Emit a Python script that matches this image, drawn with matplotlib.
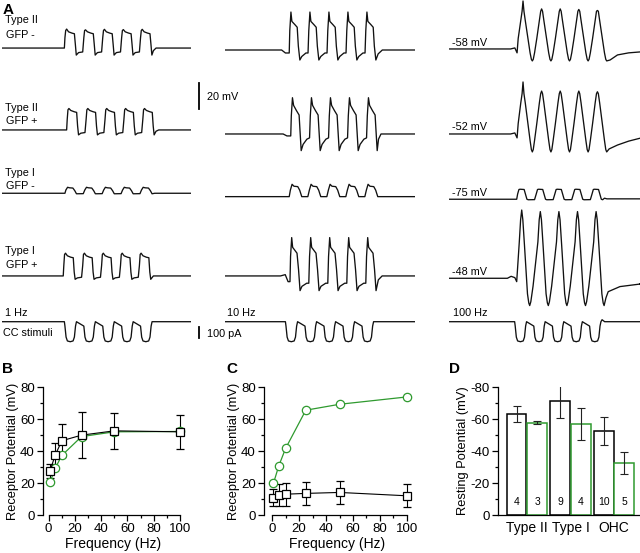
import numpy as np
import matplotlib.pyplot as plt

plt.rcParams['font.family'] = ['Liberation Sans', 'DejaVu Sans']
plt.rcParams['axes.unicode_minus'] = False

W, H = 640, 553
GREEN = '#2f9a2f'

# ------------------------------------------------------------------
# A: example sweeps. cycle vertices = fraction of a stimulus period
# after pulse onset, value = mV (or pA) relative to the resting level
# ------------------------------------------------------------------
# 1 Hz column (time in s)
hz1_sq_f = [0.03, 0.07, 0.12, 0.22, 0.40, 0.53, 0.58, 0.63, 0.75, 0.97]
hz1_r1_v = [8, 13.5, 14.6, 12.5, 11.5, 11, 3, -5.4, -3.5, -3]
hz1_r2_v = [8, 15.5, 16.5, 15, 14, 13.5, 3, -3.8, -2.5, -2]
hz1_r4_v = [8, 16.5, 17.5, 15.5, 14.4, 14, 3, -2.6, -1.5, -1]
hz1_r3_f = [0.05, 0.14, 0.24, 0.42, 0.52, 0.61, 0.97]
hz1_r3_v = [2.5, 4.6, 4.2, 4.0, 2, -0.4, -0.3]
hz1_onset = [3.30, 3.42, 3.33, 3.24]

# 10 Hz column (time in s)
hz10_r1_f = [0.03, 0.09, 0.14, 0.30, 0.42, 0.48, 0.56, 0.66, 0.88, 0.99]
hz10_r1_v = [15, 29.2, 22, 19.5, 17.5, 3, -7.7, -5, -2.3, -2.3]
hz10_r2_f = [0.03, 0.09, 0.15, 0.30, 0.44, 0.49, 0.55, 0.65, 0.85, 0.99]
hz10_r2_v = [14, 27.9, 22, 18, 14.6, 2, -12.8, -8, -4, -3]
hz10_r3_f = [0.06, 0.15, 0.25, 0.45, 0.55, 0.66, 0.98]
hz10_r3_v = [5, 9.5, 8, 7.7, 5, 0, 0]
hz10_r4_f = [0.03, 0.09, 0.14, 0.37, 0.45, 0.53, 0.63, 0.88, 0.99]
hz10_r4_v = [15, 29.5, 22, 17.5, 5, -11.3, -8, -5.6, -5.6]
hz10_onset = [0.338, 0.346, 0.338, 0.342]

# 100 Hz column (time in ms)
hz100_sin_f = [0.06, 0.20, 0.27, 0.32, 0.37, 0.44, 0.70, 0.77, 0.82, 0.87, 0.94]
hz100_r1_v = [8, 22, 29, 31, 29, 22, -3, -8, -9.2, -8, -3]
hz100_r1_pk = [36.9, 30.8, 30.8, 30.4, 29.6]
hz100_r2_v = [8, 24, 31, 33, 31, 24, -5, -12, -13.8, -12, -5]
hz100_r2_pk = [40, 33, 33, 33, 32.5]
hz100_r3_f = [0.05, 0.12, 0.18, 0.40, 0.47, 0.55, 0.62, 0.96]
hz100_r3_v = [4, 7.5, 7.7, 7.5, 4, 0, -0.4, -0.3]
hz100_r4_f = [0.14, 0.21, 0.27, 0.33, 0.42, 0.58, 0.65, 0.70, 0.76, 0.88]
hz100_r4_v = [28, 45, 51.3, 45, 25, -12, -19, -21, -18, -6]
hz100_r4_pk = [52.5, 51.3, 51.3, 51.3, 51.3]
hz100_onset = [36.6, 36.6, 36.4, 36.4]

# current clamp stimulus (pA)
cc_f = [0.03, 0.09, 0.16, 0.31, 0.46, 0.53, 0.59, 0.64]
cc_v = [-40, -140, -175, -182, -175, -140, -40, 0]
cc_onset = [3.30, 0.318, 35.3]

periods = [1.0, 0.1, 10.0]
sweep_len = [10.0, 1.0, 102.7]
freq_labels = ['1 Hz', '10 Hz', '100 Hz']
rest_labels = ['-58 mV', '-52 mV', '-75 mV', '-48 mV']
row_labels = [('Type II', 'GFP -'), ('Type II', 'GFP +'), ('Type I', 'GFP -'), ('Type I', 'GFP +')]
SCALE_MV = 20
SCALE_PA = 100

# ------------------------------------------------------------------
# B, C: receptor potential vs stimulus frequency
# ------------------------------------------------------------------
freq = [1, 5, 10, 25, 50, 100]
b_black = [27.6, 37.4, 46.4, 49.9, 52.6, 52.0]
b_black_err = [4.3, 7.3, 10.4, 14.3, 11.2, 10.8]
b_green = [20.4, 29.2, 37.2, 49.0, 52.0, 52.2]
c_black = [10.8, 12.5, 13.0, 13.5, 14.1, 12.0]
c_black_err = [5.2, 7.0, 7.3, 7.0, 7.1, 7.3]
c_green = [19.8, 30.8, 41.6, 65.5, 69.2, 73.8]

# ------------------------------------------------------------------
# D: resting potential
# ------------------------------------------------------------------
d_groups = ['Type II', 'Type I', 'OHC']
d_black = [-63.4, -71.1, -52.6]
d_black_err = [5.0, 10.5, 8.9]
d_green = [-57.6, -56.8, -32.6]
d_green_err = [1.0, 9.9, 7.0]
d_n_black = [4, 9, 10]
d_n_green = [3, 4, 5]


def sweep(onset, period, cyc_f, cyc_v, peaks, tail_f, tail_v, t_end,
          pre_f=(0.0,), pre_v=(0.0,)):
    ip = int(np.argmax(cyc_v))
    t = [0.0] + [onset + f * period for f in pre_f]
    v = [pre_v[0]] + list(pre_v)
    for k, pk in enumerate(peaks):
        last = k == len(peaks) - 1
        for j, (f, y) in enumerate(zip(cyc_f, cyc_v)):
            if last and f >= tail_f[0]:
                break
            t.append(onset + (k + f) * period)
            v.append(pk if j == ip else y)
    t0 = onset + (len(peaks) - 1) * period
    t += [t0 + f * period for f in tail_f] + [t_end]
    v += list(tail_v) + [tail_v[-1]]
    return np.array(t), np.array(v)


def px_axes(fig, l, t, r, b):
    return fig.add_axes([l / W, 1 - b / H, (r - l) / W, (b - t) / H])


def ftext(fig, x, y, s, **kw):
    kw.setdefault('fontsize', 7.8)
    kw.setdefault('va', 'center')
    fig.text(x / W, 1 - y / H, s, **kw)


fig = plt.figure(figsize=(6.4, 5.53), dpi=100)

# voltage axes: 1.3 px per mV, bottom at y=310 px
col_x = [(2, 191), (225, 415), (449, 640)]
row_base = [[201.5, 138.5, 89.8, 26.2],
            [200.0, 135.4, 87.2, 26.2],
            [200.8, 135.4, 85.2, 24.4]]
vax, iax = [], []
for c, (x0, x1) in enumerate(col_x):
    a = px_axes(fig, x0, 0, x1, 310)
    a.set_xlim(0, sweep_len[c])
    a.set_ylim(0, 310 / 1.3)
    a.axis('off')
    vax.append(a)
    b = px_axes(fig, x0, 300, x1, 350)
    b.set_xlim(0, sweep_len[c])
    b.set_ylim(-(350 - 321.7) / 0.11, (321.7 - 300) / 0.11)
    b.axis('off')
    iax.append(b)

tr_kw = dict(color='#111111', lw=0.95, solid_joinstyle='round')

# 1 Hz
P, L = periods[0], sweep_len[0]
specs = [
    (hz1_sq_f, hz1_r1_v, [14.6, 14.0, 14.4, 14.2, 14.4], [0.63, 0.71, 0.85], [-5.4, -2, 0]),
    (hz1_sq_f, hz1_r2_v, [16.5] * 5, [0.63, 0.73, 0.87], [-3.8, -1, 0]),
    (hz1_r3_f, hz1_r3_v, [4.6] * 5, [0.61, 0.75], [-0.4, 0]),
    (hz1_sq_f, hz1_r4_v, [17.5] * 5, [0.63, 0.77], [-2.6, 0]),
]
for r, (cf, cv, pk, tf, tv) in enumerate(specs):
    t, v = sweep(hz1_onset[r], P, cf, cv, pk, tf, tv, L)
    vax[0].plot(t, v + row_base[0][r], **tr_kw)

# 10 Hz
P, L = periods[1], sweep_len[1]
specs = [
    (hz10_r1_f, hz10_r1_v, [29.2] * 5, [0.56, 0.68, 0.9], [-7.7, -3, 0], [-0.4, -0.2, 0], [0, -2.3, -2.3]),
    (hz10_r2_f, hz10_r2_v, [27.9] * 5, [0.55, 0.62, 0.75], [-12.8, -4, 0], [-0.4, -0.2, 0], [0, -1.5, -1.5]),
    (hz10_r3_f, hz10_r3_v, [9.5] * 5, [0.66, 0.8], [0, 0], [0], [0]),
    (hz10_r4_f, hz10_r4_v, [29.5] * 5, [0.53, 0.65, 0.85], [-11.3, -3, 0], [-0.5, -0.25, -0.1, 0], [0, 1, -4.4, -4.4]),
]
for r, (cf, cv, pk, tf, tv, pf, pv) in enumerate(specs):
    t, v = sweep(hz10_onset[r], P, cf, cv, pk, tf, tv, L, pf, pv)
    vax[1].plot(t, v + row_base[1][r], **tr_kw)

# 100 Hz
P, L = periods[2], sweep_len[2]
specs = [
    (hz100_sin_f, hz100_r1_v, hz100_r1_pk, [0.82, 1.0, 1.4, 2.0, 2.6], [-9.2, -8.5, -4.6, -3, -2.3],
     [-0.35, -0.12, 0], [0, 0.8, -3]),
    (hz100_sin_f, hz100_r2_v, hz100_r2_pk, [0.82, 0.95, 1.4, 2.0, 2.6], [-13.8, -11.5, -8.5, -5.5, -3.3],
     [-0.35, -0.12, 0], [0, 0.8, -3]),
    (hz100_r3_f, hz100_r3_v, [7.7] * 5, [0.62, 0.72, 0.85], [-0.4, 0.8, 0.3], [0], [0]),
    (hz100_r4_f, hz100_r4_v, hz100_r4_pk, [0.70, 0.80, 0.92, 1.55, 2.65], [-21, -15, -10.3, -6.4, -4.4],
     [-0.5, -0.3, -0.1, 0], [0, 1.5, 0.5, -2.6]),
]
for r, (cf, cv, pk, tf, tv, pf, pv) in enumerate(specs):
    t, v = sweep(hz100_onset[r], P, cf, cv, pk, tf, tv, L, pf, pv)
    vax[2].plot(t, v + row_base[2][r], **tr_kw)

# stimulus currents
for c in range(3):
    if c == 2:
        tf, tv = [0.64, 0.70, 0.84], [0, 18, 0]
    else:
        tf, tv = [0.64], [0]
    t, v = sweep(cc_onset[c], periods[c], cc_f, cc_v, [0] * 5, tf, tv, sweep_len[c])
    iax[c].plot(t, v, **tr_kw)

# scale bars (col 1 axes, just right of the sweep)
xs = (199 - 2) / 18.9
vax[0].plot([xs, xs], [154.6, 154.6 + SCALE_MV], color='k', lw=1.3, clip_on=False)
iax[0].plot([xs, xs], [-48, -48 - SCALE_PA], color='k', lw=1.3, clip_on=False)
ftext(fig, 207, 97, '%d mV' % SCALE_MV)
ftext(fig, 207, 334, '%d pA' % SCALE_PA)

# labels for panel A
ftext(fig, 3, 9.5, 'A', fontsize=11, fontweight='bold')
lab_y = [(20, 35), (108, 121), (173, 186), (251, 265)]
for (l1, l2), (y1, y2) in zip(row_labels, lab_y):
    ftext(fig, 5, y1, l1)
    ftext(fig, 6, y2, l2)
for s, y in zip(rest_labels, [43, 127, 193, 272]):
    ftext(fig, 452, y, s)
for s, x in zip(freq_labels, [5, 227, 453]):
    ftext(fig, x, 313, s)
ftext(fig, 3, 333, 'CC stimuli')


# ------------------------------------------------------------------
def style(ax):
    for s in ['top', 'right']:
        ax.spines[s].set_visible(False)
    for s in ['left', 'bottom']:
        ax.spines[s].set_linewidth(0.9)
    ax.tick_params(direction='out', length=4, width=0.9, labelsize=9.5, pad=2)
    ax.tick_params(which='minor', direction='out', length=2.2, width=0.9)


for (l, r, xl), yv, ye, gv, letter, lx in [
        ((43, 184, -4.3), b_black, b_black_err, b_green, 'B', 2),
        ((264, 411, -6.0), c_black, c_black_err, c_green, 'C', 226)]:
    ax = px_axes(fig, l, 387, r, 515)
    style(ax)
    ax.errorbar(freq, yv, yerr=ye, color='k', marker='s', ms=6, mfc='white', mec='k',
                mew=0.9, lw=0.8, elinewidth=0.8, capsize=2.6, capthick=0.8, clip_on=False)
    ax.plot(freq, gv, color=GREEN, marker='o', ms=6, mfc='white', mec=GREEN, mew=0.9,
            lw=0.9, clip_on=False)
    ax.set_xlim(xl, 103)
    ax.set_ylim(0, 80)
    ax.spines['bottom'].set_bounds(0, 100)
    ax.set_xticks(range(0, 101, 20))
    ax.set_xticks(range(0, 101, 10), minor=True)
    ax.set_yticks(range(0, 81, 20))
    ax.set_yticks(range(0, 81, 10), minor=True)
    ax.set_xlabel('Frequency (Hz)', fontsize=10, labelpad=1)
    ax.set_ylabel('Receptor Potential (mV)', fontsize=9.3, labelpad=1)
    ftext(fig, lx, 369, letter, fontsize=11, fontweight='bold')

# D
axD = px_axes(fig, 498.3, 387, 640, 515)
style(axD)
gpos = np.array([0, 2.13, 4.26])
ekw = dict(ecolor='#222222', elinewidth=0.8, capsize=2.6, capthick=0.8)
axD.bar(gpos, d_black, width=0.97, color='white', edgecolor='k', lw=1.1,
        yerr=d_black_err, error_kw=ekw)
axD.bar(gpos + 1, d_green, width=0.97, color='white', edgecolor=GREEN, lw=1.1,
        yerr=d_green_err, error_kw=ekw)
for x, n in zip(gpos, d_n_black):
    axD.text(x, -8.3, str(n), ha='center', va='center', fontsize=7.5)
for x, n in zip(gpos + 1, d_n_green):
    axD.text(x, -8.3, str(n), ha='center', va='center', fontsize=7.5)
axD.set_xlim(-0.89, 6.02)
axD.set_ylim(0, -80)
axD.set_yticks(range(0, -81, -20))
axD.set_yticks(range(0, -81, -10), minor=True)
axD.set_xticks(gpos + 0.5)
axD.set_xticklabels(d_groups, fontsize=10)
axD.tick_params(axis='x', length=0, pad=4)
axD.set_ylabel('Resting Potential (mV)', fontsize=9.3, labelpad=1)
ftext(fig, 449, 369, 'D', fontsize=11, fontweight='bold')

fig.savefig('out.png', dpi=100)
